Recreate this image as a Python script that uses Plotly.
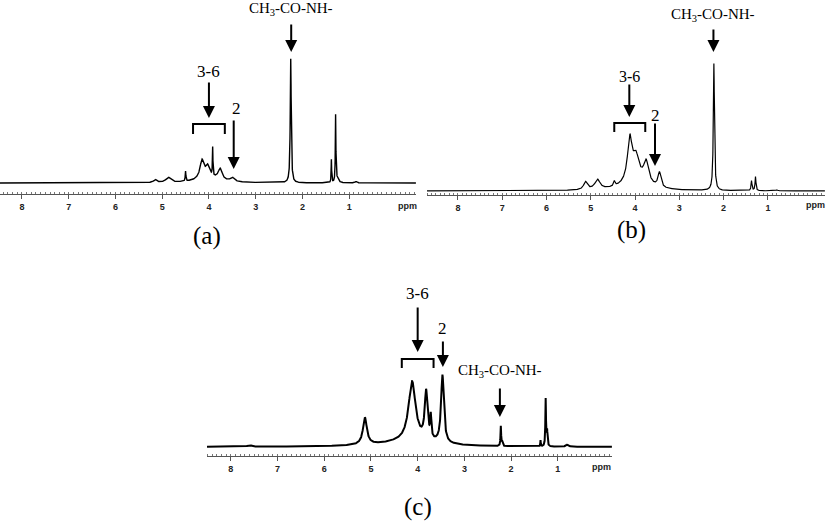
import numpy as np
import plotly.graph_objects as go

# ---------------- data: peak lists ----------------
# centre (ppm), height (a.u.), Lorentzian half-width (ppm)
a_pos = [5.15, 4.87, 4.50, 4.15, 4.03, 3.92, 3.76, 3.50, 2.25, 1.38, 1.29, 1.25, 0.85, 4.00]
a_hgt = [3.0, 5.0, 10.0, 18.0, 11.0, 28.0, 11.0, 4.0, 124.0, 23.0, 67.0, 4.0, 1.5, 5.0]
a_wid = [0.04, 0.06, 0.008, 0.05, 0.05, 0.006, 0.05, 0.05, 0.012, 0.006, 0.007, 0.03, 0.02, 0.30]

b_pos = [5.12, 4.85, 4.47, 4.12, 3.98, 3.75, 3.45, 2.22, 1.37, 1.28, 0.80, 4.00]
b_hgt = [8.0, 10.0, 5.0, 42.0, 22.0, 22.0, 15.0, 127.0, 10.0, 14.0, 1.0, 10.0]
b_wid = [0.05, 0.07, 0.02, 0.06, 0.08, 0.07, 0.04, 0.015, 0.012, 0.012, 0.02, 0.32]

c_pos = [7.60, 5.13, 4.12, 3.82, 3.72, 3.47, 2.22, 2.19, 1.37, 1.26, 1.23, 0.80, 4.20]
c_hgt = [1.5, 27.0, 60.0, 48.0, 22.0, 68.0, 20.0, 4.0, 6.0, 47.0, 15.0, 2.0, 5.0]
c_wid = [0.05, 0.05, 0.09, 0.035, 0.015, 0.035, 0.008, 0.01, 0.006, 0.008, 0.01, 0.03, 0.80]

tick_vals = [8, 7, 6, 5, 4, 3, 2, 1]
tick_text = ["8", "7", "6", "5", "4", "3", "2", "1"]

labels = ["(a)", "(b)", "(c)"]
ch3_label = "CH<sub>3</sub>-CO-NH-"

# ---------------- layout helpers ----------------
W, H = 827, 523
def fx(p):
    return p / W
def fy(p):
    return 1 - p / H

SERIF = "Liberation Serif"
SANS = "Liberation Sans"

panels = [
    dict(pos=a_pos, hgt=a_hgt, wid=a_wid, xd=(0, 416), yd=(194, 0), xr=(8.47, -0.43), base=183, lw=1.4,
         ch3=(2.24, 23, 52, 9), a36=(4.00, 81, 118, 71), br=(4.34, 3.66, 124, 134), a2=(3.47, 119, 169, 3.40, 108),
         lab=(207, 236), ppm=(407, 206), f36=17, f2=17),
    dict(pos=b_pos, hgt=b_hgt, wid=b_wid, xd=(427, 825), yd=(195, 0), xr=(8.70, -0.29), base=191, lw=1.2,
         ch3=(2.23, 28, 52, 15), a36=(4.13, 83, 117, 76), br=(4.47, 3.77, 123, 132), a2=(3.55, 122, 166, 3.53, 115),
         lab=(631, 230), ppm=(815, 205), f36=16, f2=17),
    dict(pos=c_pos, hgt=c_hgt, wid=c_wid, xd=(207, 612), yd=(456, 278), xr=(8.51, -0.16), base=447, lw=2.0,
         ch3=(2.24, 387, 417, 371), a36=(4.00, 306, 352, 293), br=(4.34, 3.66, 359, 368), a2=(3.46, 340, 367, 3.46, 328),
         lab=(418, 507), ppm=(601, 467), f36=17, f2=17),
]

fig = go.Figure()
annotations = []
shapes = []

for i, p in enumerate(panels, start=1):
    sx = "" if i == 1 else str(i)
    xname, yname = "x" + sx, "y" + sx
    base = p["base"]
    x = np.arange(p["xr"][0], p["xr"][1], -0.002)
    y = np.zeros_like(x)
    for c, h, w in zip(p["pos"], p["hgt"], p["wid"]):
        y += h / (1.0 + ((x - c) / w) ** 2)
    fig.add_trace(go.Scatter(x=x, y=y, mode="lines", line=dict(color="black", width=p["lw"]),
                             xaxis=xname, yaxis=yname, showlegend=False, hoverinfo="skip"))

    B, T = p["yd"]
    fig.layout["xaxis" + sx] = dict(
        domain=[fx(p["xd"][0]), fx(p["xd"][1])], range=list(p["xr"]), anchor=yname,
        showline=True, linecolor="#555", linewidth=1, ticks="outside", ticklen=4, tickcolor="#555",
        tickvals=tick_vals, ticktext=tick_text, showgrid=False, zeroline=False,
        tickfont=dict(family=SANS, size=9, color="#222", weight="bold"),
        minor=dict(ticks="inside", ticklen=2, dtick=0.1, tickcolor="#777", showgrid=False),
    )
    fig.layout["yaxis" + sx] = dict(
        domain=[fy(B), fy(T)], range=[base - B, base - T], anchor=xname, visible=False,
    )

    def v(ypx):
        return base - ypx

    # CH3 arrow + label
    cx, t0, t1, ly = p["ch3"]
    annotations.append(dict(x=cx, y=v(t1), ax=cx, ay=v(t0), xref=xname, yref=yname, axref=xname, ayref=yname,
                            text="", showarrow=True, arrowhead=2, arrowsize=1.2, arrowwidth=2, arrowcolor="black"))
    annotations.append(dict(x=cx, y=v(ly), xref=xname, yref=yname, text=ch3_label, showarrow=False,
                            font=dict(family=SERIF, size=15, color="black"), xanchor="center", yanchor="middle"))
    # 3-6 arrow + label
    cx, t0, t1, ly = p["a36"]
    annotations.append(dict(x=cx, y=v(t1), ax=cx, ay=v(t0), xref=xname, yref=yname, axref=xname, ayref=yname,
                            text="", showarrow=True, arrowhead=2, arrowsize=1.2, arrowwidth=2, arrowcolor="black"))
    annotations.append(dict(x=cx, y=v(ly), xref=xname, yref=yname, text="3-6", showarrow=False,
                            font=dict(family=SERIF, size=p["f36"], color="black"), xanchor="center", yanchor="middle"))
    # bracket
    x1, x2, ytop, yend = p["br"]
    shapes.append(dict(type="path", xref=xname, yref=yname,
                       path=f"M{x1},{v(yend)} L{x1},{v(ytop)} L{x2},{v(ytop)} L{x2},{v(yend)}",
                       line=dict(color="black", width=2)))
    # 2 arrow + label
    cx, t0, t1, lx, ly = p["a2"]
    annotations.append(dict(x=cx, y=v(t1), ax=cx, ay=v(t0), xref=xname, yref=yname, axref=xname, ayref=yname,
                            text="", showarrow=True, arrowhead=2, arrowsize=1.2, arrowwidth=2, arrowcolor="black"))
    annotations.append(dict(x=lx, y=v(ly), xref=xname, yref=yname, text="2", showarrow=False,
                            font=dict(family=SERIF, size=p["f2"], color="black"), xanchor="center", yanchor="middle"))
    # panel label and ppm unit
    annotations.append(dict(x=fx(p["lab"][0]), y=fy(p["lab"][1]), xref="paper", yref="paper", text=labels[i - 1],
                            showarrow=False, font=dict(family=SERIF, size=25, color="black"),
                            xanchor="center", yanchor="middle"))
    annotations.append(dict(x=fx(p["ppm"][0]), y=fy(p["ppm"][1]), xref="paper", yref="paper", text="ppm",
                            showarrow=False, font=dict(family=SANS, size=9, color="#222", weight="bold"),
                            xanchor="center", yanchor="middle"))

fig.update_layout(width=W, height=H, margin=dict(l=0, r=0, t=0, b=0),
                  paper_bgcolor="white", plot_bgcolor="white",
                  annotations=annotations, shapes=shapes, showlegend=False)

fig.write_html("out.html", config={"displayModeBar": False},
               post_script="document.body.style.margin='0';document.body.style.overflow='hidden';")
